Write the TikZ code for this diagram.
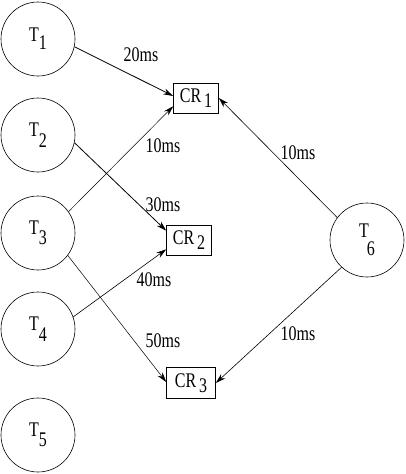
\documentclass[tikz,border=0pt]{standalone}
\usepackage{graphicx}
\usepackage{fontspec}
\setmainfont{Liberation Serif}
\usetikzlibrary{arrows.meta,calc}
\newcommand{\vt}[1]{\scalebox{1}[1.3]{#1}}
\begin{document}
\begin{tikzpicture}[x=1pt,y=-1pt,
  task/.style={draw,circle,minimum size=74pt,inner sep=0pt,line width=0.6pt},
  crbox/.style={draw,rectangle,minimum width=45pt,minimum height=30pt,inner sep=0pt,line width=0.6pt},
  lab/.style={inner sep=0pt},
  conn/.style={line width=0.6pt,-{Stealth[length=10pt,width=6pt]}},
  every node/.style={font=\fontsize{16}{19}\selectfont}]
\useasboundingbox (0,0) rectangle (406,474);
\node[task] (t1) at (38,39) {\vt{T\raisebox{-6pt}{1}}};
\node[task] (t2) at (38,135) {\vt{T\raisebox{-8pt}{2}}};
\node[task] (t3) at (38,233) {\vt{T\raisebox{-8pt}{3}}};
\node[task] (t4) at (38,329) {\vt{T\raisebox{-8pt}{4}}};
\node[task] (t5) at (38,435) {\vt{T\raisebox{-8pt}{5}}};
\node[task] (t6) at (367,240) {\vt{T\kern-2pt\raisebox{-14pt}{6}}};
\node[crbox] (cr1) at (196,98) {\vt{CR\,\raisebox{-4pt}{1}}};
\node[crbox] (cr2) at (189,240) {\vt{CR\,\raisebox{-4pt}{2}}};
\node[crbox, minimum width=49pt, minimum height=31pt] (cr3) at (191,383) {\vt{CR\,\raisebox{-4pt}{3}}};
\coordinate (c1a) at ($(cr1.south west)+(0,-7)$);
\coordinate (c2a) at ($(cr2.north west)+(0,6)$);
\coordinate (c2b) at ($(cr2.south west)+(0,-6)$);
\coordinate (c3a) at ($(cr3.west)+(0,-1)$);
\draw[conn,line width=0.8pt] (t1.-12) -- ($(cr1.west)+(0,-2)$);
\draw[conn,line width=0.5pt] (t3.35) -- (c1a);
\draw[conn,line width=0.8pt] (t2.-12) -- (c2a);
\draw[conn] (t4.19) -- (c2b);
\draw[conn,line width=0.5pt] (t3.-37) -- (c3a);
\draw[conn] (t6.143) -- (cr1.east);
\draw[conn] (t6.-133) -- (cr3.east);
\node[lab] (l1) at (141,55) {\vt{20ms}};
\node[lab] (l2) at (163,146) {\vt{10ms}};
\node[lab] (l3) at (163,205) {\vt{30ms}};
\node[lab] (l4) at (154,280) {\vt{40ms}};
\node[lab] (l5) at (163,341) {\vt{50ms}};
\node[lab] (l6) at (298,153) {\vt{10ms}};
\node[lab] (l7) at (298,334) {\vt{10ms}};
\end{tikzpicture}
\end{document}
